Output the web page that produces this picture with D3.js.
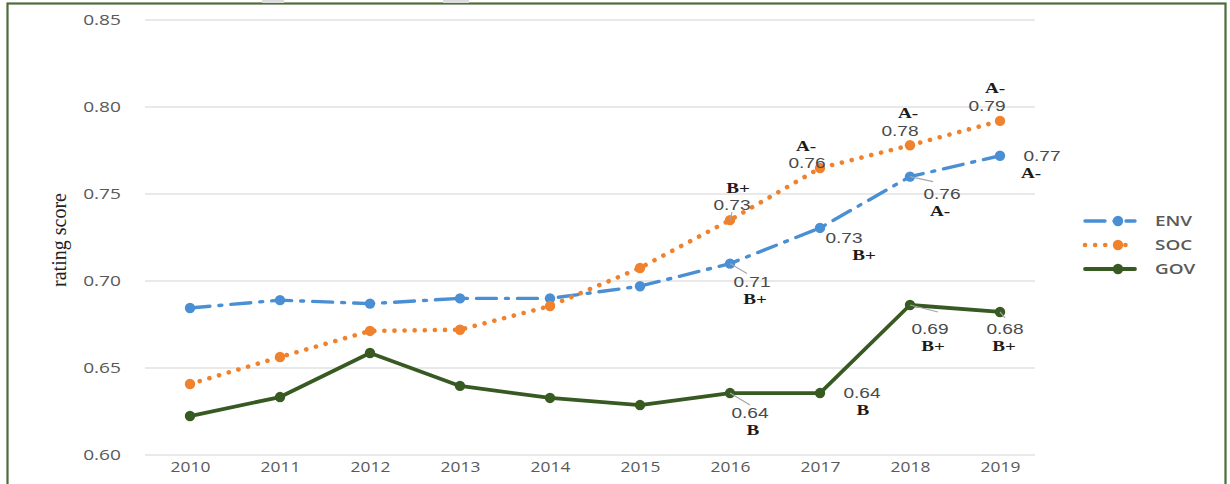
<!DOCTYPE html>
<html><head><meta charset="utf-8">
<script src="https://cdn.jsdelivr.net/npm/d3@7"></script>
<style>html,body{margin:0;padding:0;background:#fff;}svg{display:block;}</style>
</head><body>
<svg id="chart" width="1230" height="484"></svg>
<script>
const years = ["2010","2011","2012","2013","2014","2015","2016","2017","2018","2019"];
const envValues = [0.6845,0.689,0.687,0.690,0.690,0.697,0.710,0.7305,0.760,0.772];
const socValues = [0.6408,0.6563,0.6713,0.672,0.6856,0.7075,0.735,0.7649,0.778,0.792];
const govValues = [0.6224,0.6333,0.6586,0.6397,0.6328,0.6287,0.6356,0.6356,0.6862,0.6822];
const yTicks = [0.60,0.65,0.70,0.75,0.80,0.85];
const seriesNames = ["ENV","SOC","GOV"];
const envGrades = [null,null,null,null,null,null,"B+","B+","A-","A-"];
const socGrades = [null,null,null,null,null,null,"B+","A-","A-","A-"];
const govGrades = [null,null,null,null,null,null,"B","B","B+","B+"];

const SX = 1.32; // horizontal stretch of reference text
const svg = d3.select("#chart");
const x = d3.scalePoint().domain(years).range([190,1000]);
const y = d3.scaleLinear().domain([0.60,0.85]).range([455,20]);

// outer border
svg.append("rect").attr("x",7.5).attr("y",3.5).attr("width",1218).attr("height",490)
  .attr("fill","none").attr("stroke","#4e6b3a").attr("stroke-width",2.2);
svg.append("rect").attr("x",262).attr("y",0).attr("width",22).attr("height",3).attr("fill","#dcdcdc");
svg.append("rect").attr("x",443).attr("y",0).attr("width",26).attr("height",3).attr("fill","#dcdcdc");

// grid
svg.append("g").selectAll("line").data(yTicks).join("line")
  .attr("x1",145).attr("x2",1035).attr("y1",d=>y(d)).attr("y2",d=>y(d))
  .attr("stroke","#e2e2e2").attr("stroke-width",1.3);

// y axis
const yAxis = d3.axisLeft(y).tickValues(yTicks).tickFormat(d3.format(".2f")).tickSize(0).tickPadding(0);
const gy = svg.append("g").attr("transform","translate(121,0)").call(yAxis);
gy.select(".domain").remove();
gy.selectAll("text").attr("font-family","'Open Sans', sans-serif").attr("font-size",14.5).attr("fill","#595959")
  .attr("transform",`scale(${SX},1)`);

// x axis
const xAxis = d3.axisBottom(x).tickSize(0).tickPadding(0);
const gx = svg.append("g").attr("transform","translate(0,462)").call(xAxis);
gx.select(".domain").remove();
gx.selectAll("text").attr("font-family","'Open Sans', sans-serif").attr("font-size",14.5).attr("fill","#595959")
  .attr("transform",`scale(1.2,1)`);

// y title
svg.append("text").attr("transform","translate(66,240) rotate(-90)").attr("text-anchor","middle")
  .attr("font-family","'Liberation Serif', serif").attr("font-size",20).attr("fill","#222")
  .text("rating  score");

const series = [
  {name:seriesNames[0], values:envValues, grades:envGrades, color:"#4a8fd3", dash:"20,9,3,9", cap:"round", w:3.4},
  {name:seriesNames[1], values:socValues, grades:socGrades, color:"#f0822e", dash:"0.1,10", cap:"round", w:4.6},
  {name:seriesNames[2], values:govValues, grades:govGrades, color:"#375a22", dash:null, cap:"round", w:3.8}
];
const line = d3.line().x((d,i)=>x(years[i])).y(d=>y(d));

series.forEach(s=>{
  svg.append("path").datum(s.values).attr("d",line).attr("fill","none")
    .attr("stroke",s.color).attr("stroke-width",s.w).attr("stroke-linecap",s.cap)
    .attr("stroke-linejoin","round").attr("stroke-dasharray",s.dash);
  svg.append("g").selectAll("circle").data(s.values).join("circle")
    .attr("cx",(d,i)=>x(years[i])).attr("cy",d=>y(d)).attr("r",5.2).attr("fill",s.color);
});

// annotation layout offsets (value label dx,dy ; grade label dx,dy ; leader end)
const annot = {
  ENV: [null,null,null,null,null,null,
    {v:[22,18],g:[25,35],l:[17,10]},{v:[24,10],g:[44,27],l:null},{v:[32,17],g:[30,34],l:[23,5]},{v:[42,0],g:[31,17],l:null}],
  SOC: [null,null,null,null,null,null,
    {v:[2,-15],g:[8,-32],l:[2,-8]},{v:[-13,-5],g:[-14,-22],l:null},{v:[-10,-14],g:[-2,-32],l:null},{v:[-13,-15],g:[-5,-33],l:null}],
  GOV: [null,null,null,null,null,null,
    {v:[20,20],g:[23,37],l:[20,12]},{v:[42,0],g:[43,17],l:null},{v:[20,24],g:[23,41],l:[28,7]},{v:[5,17],g:[4,34],l:[5,6]}]
};
function stretchedText(tx, ty, txt){
  return svg.append("text").attr("transform",`translate(${tx},${ty}) scale(${SX},1)`)
    .attr("dy","0.35em").attr("text-anchor","middle").text(txt);
}
series.forEach(s=>{
  s.values.forEach((v,i)=>{
    const a = annot[s.name][i];
    if(!a || !s.grades[i]) return;
    const px = x(years[i]), py = y(v);
    if(a.l){
      svg.append("line").attr("x1",px).attr("y1",py).attr("x2",px+a.l[0]).attr("y2",py+a.l[1])
        .attr("stroke","#a6a6a6").attr("stroke-width",1.2);
    }
    stretchedText(px+a.v[0], py+a.v[1], d3.format(".2f")(v))
      .attr("font-family","'Liberation Sans', sans-serif").attr("font-size",14.5).attr("fill","#4a4a4a");
    stretchedText(px+a.g[0], py+a.g[1], s.grades[i])
      .attr("font-family","'Liberation Serif', serif").attr("font-weight","bold").attr("font-size",14.5).attr("fill","#1a1a1a");
  });
});

// legend
const lg = svg.append("g");
series.forEach((s,i)=>{
  const ly = 221 + i*24;
  const g = lg.append("g");
  g.append("line").attr("x1",1085).attr("x2",1135).attr("y1",ly).attr("y2",ly)
    .attr("stroke",s.color).attr("stroke-width",s.w).attr("stroke-linecap",s.cap).attr("stroke-dasharray",s.dash);
  g.append("circle").attr("cx",1118).attr("cy",ly).attr("r",5.2).attr("fill",s.color);
  g.append("text").attr("transform",`translate(1155,${ly}) scale(1.4,1)`).attr("dy","0.35em")
    .attr("font-family","'Open Sans', sans-serif").attr("font-weight",600).attr("font-size",13.5).attr("fill","#595959")
    .text(s.name);
});
</script>
</body></html>
